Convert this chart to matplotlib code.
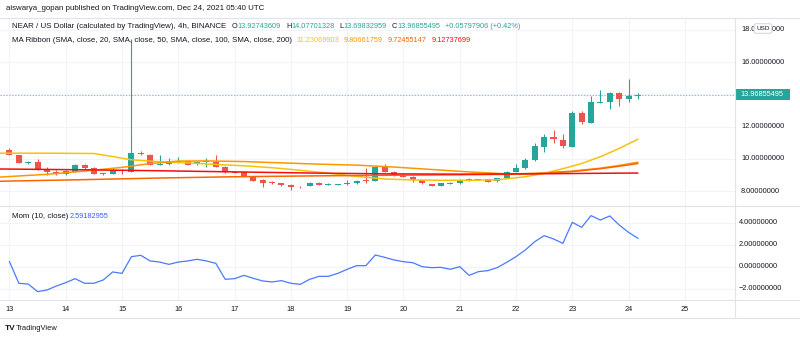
import matplotlib
matplotlib.use("Agg")
import matplotlib.pyplot as plt
import matplotlib.transforms as mtransforms
from matplotlib.lines import Line2D
from matplotlib.patches import Rectangle
import numpy as np

plt.rcParams["font.family"] = ["Liberation Sans", "DejaVu Sans"]

# 4h candles, NEAR/USD, Dec 13 00:00 -> Dec 24 04:00
opens = [10.56, 10.25, 9.77, 9.80, 9.36, 9.21, 9.07, 9.21, 9.63, 9.46,
         9.11, 9.07, 9.32, 9.21, 10.39, 10.25, 9.65, 9.67, 9.81, 9.88,
         9.66, 9.79, 9.83, 9.52, 9.22, 9.18, 8.90, 8.72, 8.59, 8.49,
         8.39, 8.28, 8.33, 8.49, 8.40, 8.41, 8.43, 8.49, 8.70, 8.66,
         9.52, 9.21, 9.01, 8.90, 8.70, 8.45, 8.35, 8.45, 8.49, 8.74,
         8.70, 8.74, 8.64, 8.84, 9.21, 9.42, 9.94, 10.77, 11.34, 11.18,
         10.77, 12.87, 12.25, 13.49, 13.53, 14.11, 13.70, 13.92743609]
highs = [10.70, 10.27, 9.86, 9.98, 9.48, 9.30, 9.33, 9.68, 9.68, 9.50,
         9.15, 9.42, 9.35, 17.44, 10.50, 10.33, 10.25, 10.04, 10.10, 9.90,
         9.82, 10.04, 10.25, 9.55, 9.26, 9.20, 8.92, 8.75, 8.62, 8.52,
         8.42, 8.32, 8.55, 8.55, 8.50, 8.47, 8.70, 8.70, 9.42, 9.50,
         9.69, 9.24, 9.04, 8.93, 8.72, 8.48, 8.52, 8.58, 8.73, 8.80,
         8.77, 8.76, 8.83, 9.25, 9.67, 10.04, 10.97, 11.55, 11.80, 11.55,
         12.95, 13.00, 13.91, 14.28, 14.15, 14.13, 14.94, 14.07701328]
lows = [10.22, 9.73, 9.70, 9.30, 9.00, 9.02, 9.03, 9.19, 9.38, 9.05,
        8.98, 9.05, 9.10, 9.20, 10.22, 9.60, 9.62, 9.63, 9.78, 9.60,
        9.62, 9.52, 9.50, 9.15, 9.12, 8.87, 8.62, 8.28, 8.45, 8.35,
        8.08, 8.20, 8.30, 8.36, 8.37, 8.39, 8.41, 8.45, 8.53, 8.64,
        9.18, 8.95, 8.87, 8.59, 8.45, 8.32, 8.32, 8.43, 8.47, 8.63,
        8.68, 8.56, 8.58, 8.80, 9.18, 9.40, 9.90, 10.45, 10.97, 10.66,
        10.72, 12.15, 12.22, 13.45, 13.08, 13.29, 13.55, 13.69832959]
closes = [10.25, 9.77, 9.80, 9.36, 9.21, 9.07, 9.26, 9.63, 9.42, 9.07,
          9.05, 9.32, 9.26, 10.35, 10.29, 9.63, 9.69, 9.79, 9.88, 9.63,
          9.79, 9.86, 9.52, 9.17, 9.16, 8.90, 8.66, 8.53, 8.49, 8.39,
          8.28, 8.24, 8.49, 8.39, 8.45, 8.44, 8.53, 8.66, 8.66, 9.48,
          9.21, 8.97, 8.90, 8.72, 8.49, 8.35, 8.49, 8.53, 8.70, 8.66,
          8.74, 8.59, 8.80, 9.21, 9.46, 9.94, 10.81, 11.34, 11.22, 10.81,
          12.87, 12.27, 13.51, 13.53, 14.11, 13.70, 13.91, 13.96855495]

# MA ribbon, read at a few candle positions
sma20_idx = [-1, 4, 9, 11, 13, 16, 19, 22, 25, 28, 31, 34, 37, 40, 43, 46,
             49, 52, 55, 57, 59, 61, 63, 65, 67]
sma20 = [10.36, 10.36, 10.34, 10.15, 9.95, 9.83, 9.76, 9.66, 9.58, 9.46,
         9.30, 9.12, 8.92, 8.76, 8.70, 8.68, 8.68, 8.71, 8.90, 9.11, 9.40,
         9.72, 10.14, 10.65, 11.23]
sma50_idx = [-1, 4, 8, 12, 15, 18, 21, 25, 29, 33, 37, 41, 45, 49, 53, 56,
             60, 63, 65, 67]
sma50 = [8.88, 9.05, 9.25, 9.48, 9.72, 9.87, 9.88, 9.84, 9.76, 9.68, 9.62,
         9.50, 9.35, 9.20, 9.08, 9.10, 9.25, 9.43, 9.60, 9.80]
sma100_idx = [-1, 8, 16, 24, 32, 40, 48, 53, 57, 60, 63, 65, 67]
sma100 = [8.62, 8.72, 8.82, 8.90, 8.95, 8.99, 9.02, 9.05, 9.12, 9.22, 9.40,
          9.55, 9.72]
sma200_idx = [-1, 8, 16, 24, 32, 40, 48, 56, 62, 67]
sma200 = [9.38, 9.33, 9.27, 9.20, 9.13, 9.08, 9.06, 9.08, 9.11, 9.13]

# Momentum (10, close)
mom = [0.48, -1.48, -1.55, -2.24, -2.09, -1.73, -1.42, -1.06, -1.48, -1.48,
       -1.18, -0.45, -0.58, 0.94, 1.06, 0.55, 0.45, 0.24, 0.45, 0.55,
       0.70, 0.55, 0.33, -1.12, -1.06, -0.76, -1.03, -1.27, -1.36, -1.24,
       -1.48, -1.58, -1.12, -0.85, -0.85, -0.58, -0.21, 0.12, 0.12, 1.09,
       0.88, 0.64, 0.48, 0.39, 0.03, -0.06, -0.03, -0.21, 0.03, -0.76,
       -0.42, -0.33, -0.06, 0.42, 0.94, 1.55, 2.30, 2.85, 2.55, 2.15,
       4.06, 3.61, 4.67, 4.27, 4.64, 3.82, 3.15, 2.61]

day_labels = ["13", "14", "15", "16", "17", "18", "19", "20", "21", "22", "23", "24", "25"]
price_ticks = [8, 10, 12, 14, 16, 18]
mom_ticks = [-2, 0, 2, 4]
last_price = 13.96855495
ohlc = [("O", "13.92743609"), ("H", "14.07701328"), ("L", "13.69832959"), ("C", "13.96855495")]
change_txt = "+0.05797906 (+0.42%)"
ma_vals = ["11.23069903", "9.80661759", "9.72455147", "9.12737699"]
mom_val = "2.59182955"

TEAL = "#26a69a"
RED = "#ef5350"
DARK = "#131722"
GRID = "#f0f3fa"
BORDER = "#e0e3eb"
BLUE = "#2962ff"
MA_COLORS = ["#f6c309", "#fb9800", "#fb6500", "#f60c0c"]
FS = 5.3     # numbers
FT = 5.65    # words

W, H = 800, 343
fig = plt.figure(figsize=(8, 3.43), dpi=100)
fig.patch.set_facecolor("white")


def fx(px):
    return px / W


def fy(py):
    return 1 - py / H


ax = fig.add_axes([0, fy(206), fx(735), (206 - 18) / H])
axm = fig.add_axes([0, fy(300), fx(735), (300 - 206) / H])
for a in (ax, axm):
    a.set_xlim(-1.01, 77.35)
    a.set_xticks([])
    a.set_yticks([])
    a.set_facecolor("none")
    for s in a.spines.values():
        s.set_visible(False)
ax.set_ylim(7.086, 18.74)
axm.set_ylim(-3.0, 5.545)

# grid
day_pos = [6 * k for k in range(len(day_labels))]
for x in day_pos:
    ax.axvline(x, color=GRID, lw=0.8, zorder=0)
    axm.axvline(x, color=GRID, lw=0.8, zorder=0)
for v in price_ticks:
    ax.axhline(v, color=GRID, lw=0.8, zorder=0)
for v in mom_ticks:
    axm.axhline(v, color=GRID, lw=0.8, zorder=0)

# candles
o = np.array(opens)
h = np.array(highs)
l = np.array(lows)
c = np.array(closes)
xs = np.arange(len(c))
cols = [TEAL if cc >= oo else RED for oo, cc in zip(o, c)]
ax.vlines(xs, l, h, colors=cols, lw=0.8, zorder=2)
ax.bar(xs, np.maximum(np.abs(c - o), 0.04), bottom=np.minimum(o, c),
       width=0.64, color=cols, lw=0, zorder=3)

# MA ribbon
for xi, yi, col in zip([sma20_idx, sma50_idx, sma100_idx, sma200_idx],
                       [sma20, sma50, sma100, sma200], MA_COLORS):
    ax.plot(xi, yi, color=col, lw=1.1, zorder=4, solid_capstyle="round")

# last price line
ax.axhline(last_price, color=TEAL, lw=0.7, ls=(0, (1.5, 1.5)), alpha=0.6, zorder=1)

# momentum
axm.plot(np.arange(len(mom)), mom, color=BLUE, lw=0.9, alpha=0.85)

# pane borders
for y in [17.5, 206, 300, 318]:
    fig.add_artist(Line2D([0, 1], [fy(y), fy(y)], color=BORDER, lw=0.8))
fig.add_artist(Line2D([fx(735), fx(735)], [fy(17.5), fy(318)], color=BORDER, lw=0.8))

# price axis labels
for v in price_ticks:
    if v == 14:
        continue
    ax.text(fx(741) / fx(735), v, f"{v:.8f}", transform=ax.get_yaxis_transform(),
            va="center", ha="left", fontsize=FS, color=DARK, clip_on=False)
for v in mom_ticks:
    axm.text(fx(739) / fx(735), v, f"{v:.8f}".replace("-", "\u2212"),
             transform=axm.get_yaxis_transform(),
             va="center", ha="left", fontsize=FS, color=DARK, clip_on=False)

# last price tag
blend = mtransforms.blended_transform_factory(fig.transFigure, ax.transData)
fig.add_artist(Rectangle((fx(735), last_price - 0.34), fx(790) - fx(735), 0.68,
                         transform=blend, fc=TEAL, ec="none"))
fig.text(fx(740), last_price, f"{last_price:.8f}", transform=blend, va="center",
         ha="left", fontsize=FS, color="white")

# USD badge (sits over the 18 label, as in TradingView)
fig.text(fx(763), fy(28.5), "USD", ha="center", va="center", fontsize=4.6, color=DARK,
         bbox=dict(boxstyle="round,pad=0.35", fc="white", ec="#c8cbd3", lw=0.6))

# time axis
for x, s in zip(day_pos, day_labels):
    axm.text(x, -0.106, s, transform=axm.get_xaxis_transform(), ha="center",
             va="center", fontsize=FS, color=DARK, clip_on=False)

renderer = fig.canvas.get_renderer()


def row(x_px, y_px, parts, gap=0.0):
    # draw text pieces one after another, returns the end x in pixels
    x = x_px
    for s, col, size in parts:
        t = fig.text(fx(x), fy(y_px), s, color=col, fontsize=size, va="center", ha="left")
        bb = t.get_window_extent(renderer)
        x = bb.x1 + gap
    return x


row(6, 8.5, [("aiswarya_gopan published on TradingView.com, Dec 24, 2021 05:40 UTC", DARK, FT)])

x1 = row(12, 27, [("NEAR / US Dollar (calculated by TradingView), 4h, BINANCE", DARK, FT)])
x1 = 232
for k, v in ohlc:
    x1 = row(x1, 27, [(k, DARK, FS), (v, TEAL, FS)]) + 5
row(x1, 27, [(change_txt, TEAL, FS)])

x2 = row(12, 40, [("MA Ribbon (SMA, close, 20, SMA, close, 50, SMA, close, 100, SMA, close, 200)", DARK, FT)])
xx = 296
for s, col in zip(ma_vals, MA_COLORS):
    xx = row(xx, 40, [(s, col, FS)]) + 5

row(12, 216, [("Mom (10, close)", DARK, FT)])
row(70, 216, [(mom_val, BLUE, FS)])

# TradingView logo
fig.text(fx(5), fy(328.5), "TV", fontsize=6, weight="bold", color=DARK, va="center")
fig.text(fx(15.5), fy(328.5), "TradingView", fontsize=5.4, color=DARK, va="center")

fig.savefig("out.png", dpi=100)
